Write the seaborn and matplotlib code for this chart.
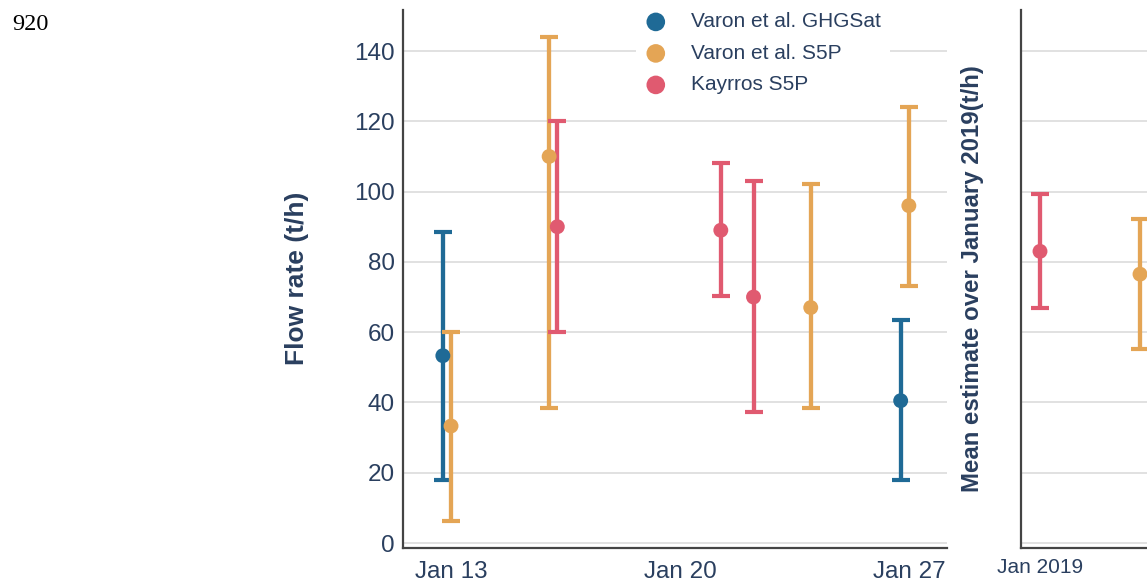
import matplotlib
matplotlib.use("Agg")
import matplotlib.pyplot as plt
import matplotlib.dates as mdates
import pandas as pd
import seaborn as sns

# ---------------- data ----------------
series_names = ["Varon et al. GHGSat", "Varon et al. S5P", "Kayrros S5P"]
series_colors = ["#1f6a96", "#e4a555", "#e05a70"]

ghgsat_dates = ["2019-01-12 18:00", "2019-01-26 18:00"]
ghgsat_vals = [53.3, 40.5]
ghgsat_low = [18.0, 18.0]
ghgsat_high = [88.5, 63.5]

s5p_dates = ["2019-01-13", "2019-01-16", "2019-01-24", "2019-01-27"]
s5p_vals = [33.3, 110.0, 67.0, 96.0]
s5p_low = [6.3, 38.3, 38.3, 73.2]
s5p_high = [60.1, 144.1, 102.1, 124.2]

kayrros_dates = ["2019-01-16 06:00", "2019-01-21 06:00", "2019-01-22 06:00"]
kayrros_vals = [90.0, 89.0, 70.0]
kayrros_low = [60.0, 70.2, 37.3]
kayrros_high = [120.0, 108.0, 103.0]

mean_sources = ["Kayrros S5P", "Varon et al. S5P"]
mean_vals = [83.0, 76.5]
mean_low = [67.0, 55.3]
mean_high = [99.3, 92.3]
mean_tick_label = "Jan 2019"

y_ticks = [0, 20, 40, 60, 80, 100, 120, 140]
x_tick_dates = ["2019-01-13", "2019-01-20", "2019-01-27"]

# ---------------- style ----------------
sns.set_theme(style="white")
plt.rcParams["font.family"] = ["Liberation Sans", "DejaVu Sans"]
TXT = "#2a3f5f"
GRID = "#d8d8d8"
SPINE = "#444444"

frames = []
for name, d, v, lo, hi in [
    (series_names[0], ghgsat_dates, ghgsat_vals, ghgsat_low, ghgsat_high),
    (series_names[1], s5p_dates, s5p_vals, s5p_low, s5p_high),
    (series_names[2], kayrros_dates, kayrros_vals, kayrros_low, kayrros_high),
]:
    frames.append(pd.DataFrame({"date": pd.to_datetime(d), "value": v,
                                "low": lo, "high": hi, "source": name}))
df = pd.concat(frames, ignore_index=True)

mean_df = pd.DataFrame({"pos": list(range(len(mean_sources))), "value": mean_vals,
                        "low": mean_low, "high": mean_high, "source": mean_sources})

palette = dict(zip(series_names, series_colors))

fig = plt.figure(figsize=(11.47, 5.81), dpi=100)
ax = fig.add_axes([403 / 1147, 1 - 548 / 581, (947 - 403) / 1147, (548 - 10) / 581])
ax2 = fig.add_axes([1021 / 1147, 1 - 548 / 581, 300 / 1147, (548 - 10) / 581])

ylim = (-1.42, 151.67)

def style_axis(a):
    a.set_ylim(*ylim)
    a.set_yticks(y_ticks)
    a.grid(axis="y", color=GRID, linewidth=1.1)
    a.grid(axis="x", visible=False)
    a.set_axisbelow(True)
    for s in ["top", "right"]:
        a.spines[s].set_visible(False)
    for s in ["left", "bottom"]:
        a.spines[s].set_color(SPINE)
        a.spines[s].set_linewidth(1.6)
    a.tick_params(axis="both", length=0, colors=TXT)
    a.set_xlabel("")
    a.set_ylabel("")

# left panel: error bars + points
for name in series_names:
    sub = df[df["source"] == name]
    ax.errorbar(sub["date"], sub["value"],
                yerr=[sub["value"] - sub["low"], sub["high"] - sub["value"]],
                fmt="none", ecolor=palette[name], elinewidth=3.1, capsize=6.2,
                capthick=3, zorder=3)
    sns.scatterplot(data=sub, x="date", y="value", color=palette[name], s=115,
                    edgecolor="none", ax=ax, zorder=4, label=name)

style_axis(ax)
ax.set_xlim(pd.Timestamp("2019-01-11 12:45"), pd.Timestamp("2019-01-28 04:00"))
ax.set_xticks(pd.to_datetime(x_tick_dates))
ax.xaxis.set_major_formatter(mdates.DateFormatter("%b %d"))
ax.tick_params(axis="x", labelsize=17.5, pad=9)
ax.tick_params(axis="y", labelsize=17.5, pad=6)

leg = ax.legend(loc="upper left", bbox_to_anchor=(636 / 1147, 1 - 3 / 581),
                bbox_transform=fig.transFigure, frameon=True, fontsize=15,
                handlelength=1.0, handletextpad=1.2, labelspacing=0.6,
                borderpad=0.45, borderaxespad=0, markerscale=1.25)
leg.get_frame().set_facecolor("white")
leg.get_frame().set_edgecolor("none")
leg.get_frame().set_alpha(1)
for t in leg.get_texts():
    t.set_color(TXT)

# right panel: January means
for _, r in mean_df.iterrows():
    ax2.errorbar([r["pos"]], [r["value"]],
                 yerr=[[r["value"] - r["low"]], [r["high"] - r["value"]]],
                 fmt="none", ecolor=palette[r["source"]], elinewidth=3.1, capsize=6.2,
                 capthick=3, zorder=3)
sns.scatterplot(data=mean_df, x="pos", y="value", hue="source", palette=palette,
                s=115, edgecolor="none", ax=ax2, zorder=4, legend=False)
style_axis(ax2)
ax2.set_xlim(-0.19, 2.81)
ax2.set_xticks([0])
ax2.set_xticklabels([mean_tick_label])
ax2.set_yticklabels([])
ax2.tick_params(axis="x", labelsize=15, pad=7)

fig.text(297 / 1147, 1 - 278.5 / 581, "Flow rate (t/h)", rotation=90, ha="center",
         va="center", fontsize=19, fontweight="bold", color=TXT)
fig.text(972 / 1147, 1 - 279 / 581, "Mean estimate over January 2019(t/h)", rotation=90,
         ha="center", va="center", fontsize=17.3, fontweight="bold", color=TXT)
fig.text(12 / 1147, 1 - 25 / 581, "920", ha="left", va="center", fontsize=17.5,
         family=["Liberation Serif", "DejaVu Serif"], color="black")

fig.savefig("out.png", dpi=100)
